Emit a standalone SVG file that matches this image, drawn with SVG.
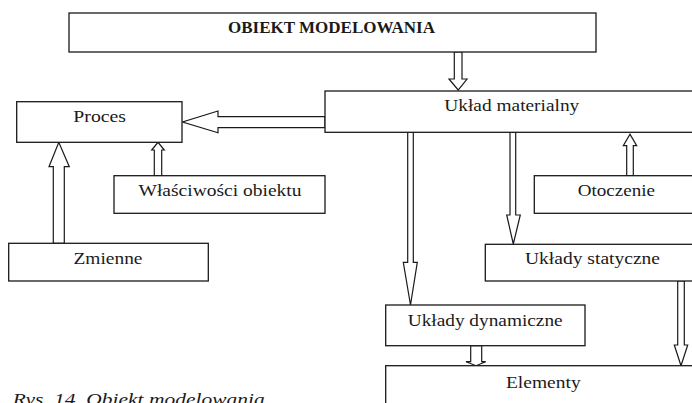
<svg xmlns="http://www.w3.org/2000/svg" width="692" height="403" viewBox="0 0 692 403">
  <style>
    .box { fill: #ffffff; stroke: #1a1a1a; stroke-width: 1.3; }
    .arrow { fill: #ffffff; stroke: #1a1a1a; stroke-width: 1.2; stroke-linejoin: miter; }
    .lbl { font-family: "Liberation Serif", "DejaVu Serif", serif; font-size: 16.5px; fill: #1a1a1a; text-anchor: middle; }
    .title { font-weight: bold; font-size: 16px; }
    .caption { font-family: "Liberation Serif", "DejaVu Serif", serif; font-style: italic; font-size: 17px; fill: #1a1a1a; }
  </style>
  <rect width="692" height="403" fill="#ffffff"/>

  <g id="connectors">
    <!-- OBIEKT MODELOWANIA -> Układ materialny -->
    <polygon class="arrow" points="454.3,52 462,52 462,79 467,79 458.2,90 449,79 454.3,79"/>
    <!-- Układ materialny -> Proces -->
    <polygon class="arrow" points="325,116.7 218,116.7 218,111 182.5,122 218,132.7 218,127.7 325,127.7"/>
    <!-- Właściwości obiektu -> Proces -->
    <polygon class="arrow" points="154.3,175.7 154.3,150 151.7,150 158,142.3 164.3,150 161.7,150 161.7,175.7"/>
    <!-- Zmienne -> Proces -->
    <polygon class="arrow" points="53.3,243.3 53.3,166.7 49,166.7 58.8,142.3 69.3,166.7 64.3,166.7 64.3,243.3"/>
    <!-- Układ materialny -> Układy dynamiczne -->
    <polygon class="arrow" points="407.7,132.3 413.3,132.3 413.3,262.3 417.3,262.3 410.5,305 403.3,262.3 407.7,262.3"/>
    <!-- Układ materialny -> Układy statyczne -->
    <polygon class="arrow" points="510,132.3 515.7,132.3 515.7,215 520.3,215 513.3,244 506.7,215 510,215"/>
    <!-- Otoczenie -> Układ materialny -->
    <polygon class="arrow" points="626.7,175.7 626.7,145.7 623.3,145.7 630,134.3 636.7,145.7 633.3,145.7 633.3,175.7"/>
    <!-- Układy dynamiczne -> Elementy -->
    <polygon class="arrow" points="470.7,345.7 481.7,345.7 481.7,361.7 485.7,361.7 476,365.7 466,361.7 470.7,361.7"/>
    <!-- Układy statyczne -> Elementy -->
    <polygon class="arrow" points="677.7,281 684.3,281 684.3,345 687.7,345 681,365.7 674.3,345 677.7,345"/>
  </g>

  <g id="obiekt">
    <rect class="box" x="69" y="13" width="527" height="39"/>
    <text class="lbl title" x="331.5" y="33.3" textLength="207" lengthAdjust="spacingAndGlyphs">OBIEKT MODELOWANIA</text>
  </g>

  <g id="uklad-materialny">
    <rect class="box" x="325" y="91" width="380" height="41.3"/>
    <text class="lbl" x="511.8" y="110.7" textLength="135" lengthAdjust="spacingAndGlyphs">Układ materialny</text>
  </g>

  <g id="proces">
    <rect class="box" x="16.7" y="101.7" width="165.3" height="40.6"/>
    <text class="lbl" x="99.7" y="122" textLength="52.7" lengthAdjust="spacingAndGlyphs">Proces</text>
  </g>

  <g id="wlasciwosci">
    <rect class="box" x="114" y="175.7" width="211" height="37.6"/>
    <text class="lbl" x="220" y="195.7" textLength="163" lengthAdjust="spacingAndGlyphs">Właściwości obiektu</text>
  </g>

  <g id="zmienne">
    <rect class="box" x="8.7" y="243.3" width="199.6" height="37.7"/>
    <text class="lbl" x="108" y="264" textLength="69" lengthAdjust="spacingAndGlyphs">Zmienne</text>
  </g>

  <g id="otoczenie">
    <rect class="box" x="534.3" y="175.7" width="170" height="37.6"/>
    <text class="lbl" x="616.3" y="195.7" textLength="77.3" lengthAdjust="spacingAndGlyphs">Otoczenie</text>
  </g>

  <g id="uklady-statyczne">
    <rect class="box" x="485.3" y="244.3" width="220" height="36.7"/>
    <text class="lbl" x="592.5" y="264" textLength="135" lengthAdjust="spacingAndGlyphs">Układy statyczne</text>
  </g>

  <g id="uklady-dynamiczne">
    <rect class="box" x="385.7" y="305" width="199.3" height="40.7"/>
    <text class="lbl" x="485.2" y="326" textLength="155" lengthAdjust="spacingAndGlyphs">Układy dynamiczne</text>
  </g>

  <g id="elementy">
    <rect class="box" x="385.7" y="365.7" width="320" height="50"/>
    <text class="lbl" x="543.3" y="388" textLength="74.7" lengthAdjust="spacingAndGlyphs">Elementy</text>
  </g>

  <text class="caption" x="12.7" y="404.5" textLength="252" lengthAdjust="spacingAndGlyphs">Rys. 14. Obiekt modelowania</text>
</svg>
